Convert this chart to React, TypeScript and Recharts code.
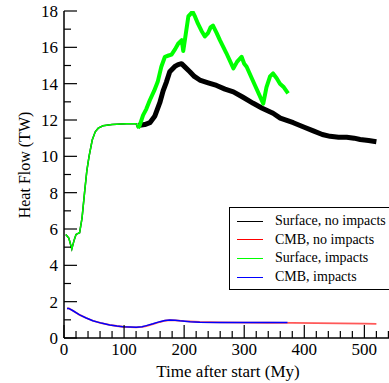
import { LineChart, Line, XAxis, YAxis } from "recharts";

// time (My), heat flow (TW)
const surfaceEarly: [number, number][] = [
  [3, 5.7], [8, 5.5], [13, 4.9], [17, 5.4], [20, 5.7], [26, 5.8], [30, 6.6],
  [34.5, 8.1], [38, 9.2], [41.7, 10.0], [47, 10.9], [52, 11.35], [57, 11.55],
  [65, 11.68], [80, 11.75], [104, 11.8], [120, 11.8], [123, 11.55],
];

const surfaceNoImpacts: [number, number][] = [
  [123, 11.7], [134.5, 11.75], [143, 11.85], [151, 12.2], [159.5, 12.95], [165, 13.6],
  [170.6, 14.1], [176, 14.66], [184.5, 14.95], [190, 15.05], [195.6, 15.1], [202, 14.9],
  [209.5, 14.66], [217, 14.4], [226, 14.2], [240, 14.05], [254, 13.9], [268, 13.7],
  [282, 13.55], [298, 13.25], [315, 12.92], [330, 12.65], [348, 12.37], [360, 12.1],
  [381.7, 11.85], [400, 11.6], [415, 11.4], [430, 11.2], [443, 11.1], [457, 11.05],
  [470.6, 11.05], [483, 11.0], [493, 10.93], [507, 10.87], [520, 10.8],
];

const surfaceImpacts: [number, number][] = [
  [123, 11.55], [126, 11.7], [131.7, 12.27], [137, 12.6], [143, 13.1], [150, 13.6],
  [156, 14.1], [162, 14.93], [168, 15.48], [174, 15.55], [179, 15.6], [185, 15.9],
  [190, 16.2], [196, 16.4], [198.5, 15.8], [203, 16.8], [207, 17.7], [214, 17.96],
  [218, 17.7], [223, 17.3], [229, 16.9], [234.5, 16.6], [240, 16.8], [244, 17.1],
  [248, 17.2], [254, 16.8], [259.5, 16.4], [270, 15.7], [282, 14.84], [288, 15.2],
  [295.6, 15.48], [300, 15.1], [304, 14.93], [318, 13.9], [331.7, 12.9], [337, 13.8],
  [343, 14.4], [348, 14.56], [354, 14.3], [359.5, 14.0], [366, 13.8], [373, 13.47],
];

const cmbNoImpacts: [number, number][] = [
  [5, 1.63], [8, 1.63], [15, 1.5], [26, 1.27], [37, 1.1], [48, 0.95], [62, 0.82],
  [76, 0.72], [88, 0.66], [98, 0.62], [110, 0.6], [120, 0.59], [130, 0.61], [137, 0.66],
  [148, 0.76], [159.5, 0.88], [168, 0.95], [176, 0.98], [185, 0.97], [200, 0.93],
  [226, 0.88], [260, 0.86], [300, 0.85], [340, 0.84], [380, 0.83], [420, 0.82],
  [460, 0.8], [500, 0.79], [520, 0.78],
];

const cmbImpacts: [number, number][] = [
  [5, 1.63], [8, 1.63], [15, 1.5], [26, 1.27], [37, 1.1], [48, 0.95], [62, 0.82],
  [76, 0.72], [88, 0.66], [98, 0.62], [110, 0.6], [120, 0.59], [130, 0.62], [137, 0.68],
  [148, 0.78], [159.5, 0.9], [168, 0.96], [176, 0.99], [185, 0.98], [193, 0.95],
  [210, 0.9], [226, 0.87], [260, 0.86], [300, 0.86], [340, 0.86], [372, 0.85],
];

const xTicks = [0, 20, 40, 60, 80, 100, 120, 140, 160, 180, 200, 220, 240, 260, 280, 300, 320, 340, 360, 380, 400, 420, 440, 460, 480, 500, 520, 540];
const yTicks = [0, 1, 2, 3, 4, 5, 6, 7, 8, 9, 10, 11, 12, 13, 14, 15, 16, 17, 18];

const legendItems = [
  { name: "Surface, no impacts", color: "#000000" },
  { name: "CMB, no impacts", color: "#ff0000" },
  { name: "Surface, impacts", color: "#00ff00" },
  { name: "CMB, impacts", color: "#0000ff" },
];

const toPts = (arr: [number, number][]) => arr.map(([t, v]) => ({ t, v }));

const FONT = "Liberation Serif, DejaVu Serif, serif";
const MAJOR = 13;
const MINOR = 7;

function BottomTick({ x, y, payload }: any) {
  const major = payload.value % 100 === 0;
  return (
    <g>
      <line x1={x} x2={x} y1={y} y2={y - (major ? MAJOR : MINOR)} stroke="#000" strokeWidth={1.2} />
      {major && (
        <text x={x} y={y + 17} textAnchor="middle" style={{ fontSize: 17, fontFamily: FONT }} fill="#000">
          {payload.value}
        </text>
      )}
    </g>
  );
}

function TopTick({ x, y, payload }: any) {
  const major = payload.value % 100 === 0;
  return <line x1={x} x2={x} y1={y} y2={y + (major ? MAJOR : MINOR)} stroke="#000" strokeWidth={1.2} />;
}

function LeftTick({ x, y, payload }: any) {
  const major = payload.value % 2 === 0;
  return (
    <g>
      <line x1={x} x2={x + (major ? MAJOR : MINOR)} y1={y} y2={y} stroke="#000" strokeWidth={1.2} />
      {major && (
        <text x={x - 6} y={y} dy="0.36em" textAnchor="end" style={{ fontSize: 17, fontFamily: FONT }} fill="#000">
          {payload.value}
        </text>
      )}
    </g>
  );
}

function RightTick({ x, y, payload }: any) {
  const major = payload.value % 2 === 0;
  return <line x1={x} x2={x - (major ? MAJOR : MINOR)} y1={y} y2={y} stroke="#000" strokeWidth={1.2} />;
}

export default function App() {
  return (
    <div style={{ position: "absolute", left: 0, top: 0, width: 389, height: 383, overflow: "hidden", background: "#fff", fontFamily: FONT }}>
      <LineChart width={392} height={383} margin={{ top: 11, right: 0, bottom: 0, left: 0 }} style={{ fontFamily: FONT }}>
        <XAxis
          dataKey="t"
          type="number"
          domain={[0, 546]}
          allowDataOverflow
          ticks={xTicks}
          interval={0}
          tickSize={0}
          tickMargin={0}
          tickLine={false}
          tick={<BottomTick />}
          height={45}
          axisLine={{ stroke: "#000", strokeWidth: 1.5 }}
          label={{
            content: () => (
              <text x={228} y={377} textAnchor="middle" style={{ fontSize: 17, fontFamily: FONT }} fill="#000">
                Time after start (My)
              </text>
            ),
          }}
        />
        <XAxis
          xAxisId="top"
          orientation="top"
          type="number"
          domain={[0, 546]}
          allowDataOverflow
          ticks={xTicks}
          interval={0}
          tickSize={0}
          tickMargin={0}
          tickLine={false}
          tick={<TopTick />}
          height={0}
          axisLine={{ stroke: "#000", strokeWidth: 1.5 }}
        />
        <YAxis
          type="number"
          domain={[0, 18]}
          allowDataOverflow
          ticks={yTicks}
          interval={0}
          tickSize={0}
          tickMargin={0}
          tickLine={false}
          tick={<LeftTick />}
          width={64}
          axisLine={{ stroke: "#000", strokeWidth: 1.5 }}
          label={{
            content: () => (
              <text
                x={0}
                y={0}
                transform="translate(30,165) rotate(-90)"
                textAnchor="middle"
                style={{ fontSize: 16, fontFamily: FONT }}
                fill="#000"
              >
                Heat Flow (TW)
              </text>
            ),
          }}
        />
        <YAxis
          yAxisId="right"
          orientation="right"
          type="number"
          domain={[0, 18]}
          allowDataOverflow
          ticks={yTicks}
          interval={0}
          tickSize={0}
          tickMargin={0}
          tickLine={false}
          tick={<RightTick />}
          width={0}
          axisLine={{ stroke: "#000", strokeWidth: 1.5 }}
        />

        <Line data={toPts(surfaceEarly)} dataKey="v" stroke="#000" strokeWidth={1.5} dot={false} isAnimationActive={false} />
        <Line data={toPts(surfaceNoImpacts)} dataKey="v" stroke="#000" strokeWidth={5} strokeLinejoin="round" dot={false} isAnimationActive={false} />
        <Line data={toPts(cmbNoImpacts)} dataKey="v" stroke="#ff2020" strokeOpacity={0.75} strokeWidth={1.8} dot={false} isAnimationActive={false} />
        <Line data={toPts(surfaceEarly)} dataKey="v" stroke="#00ff00" strokeWidth={1.5} dot={false} isAnimationActive={false} />
        <Line data={toPts(surfaceImpacts)} dataKey="v" stroke="#00ff00" strokeWidth={4} strokeLinejoin="round" dot={false} isAnimationActive={false} />
        <Line data={toPts(cmbImpacts)} dataKey="v" stroke="#0000ff" strokeWidth={1.5} dot={false} isAnimationActive={false} />
      </LineChart>

      <div
        style={{
          position: "absolute",
          left: 229,
          top: 207,
          width: 170,
          height: 83,
          boxSizing: "border-box",
          border: "1.5px solid #000",
          background: "#fff",
          fontSize: 14,
          color: "#000",
        }}
      >
        {legendItems.map((item, i) => (
          <div key={item.name} style={{ position: "absolute", left: 0, top: 13 + i * 18.7, height: 0 }}>
            <div style={{ position: "absolute", left: 7, top: -0.5, width: 26, height: 1, background: item.color }} />
            <div style={{ position: "absolute", left: 45, top: -9, whiteSpace: "nowrap", lineHeight: "18px" }}>{item.name}</div>
          </div>
        ))}
      </div>
    </div>
  );
}
